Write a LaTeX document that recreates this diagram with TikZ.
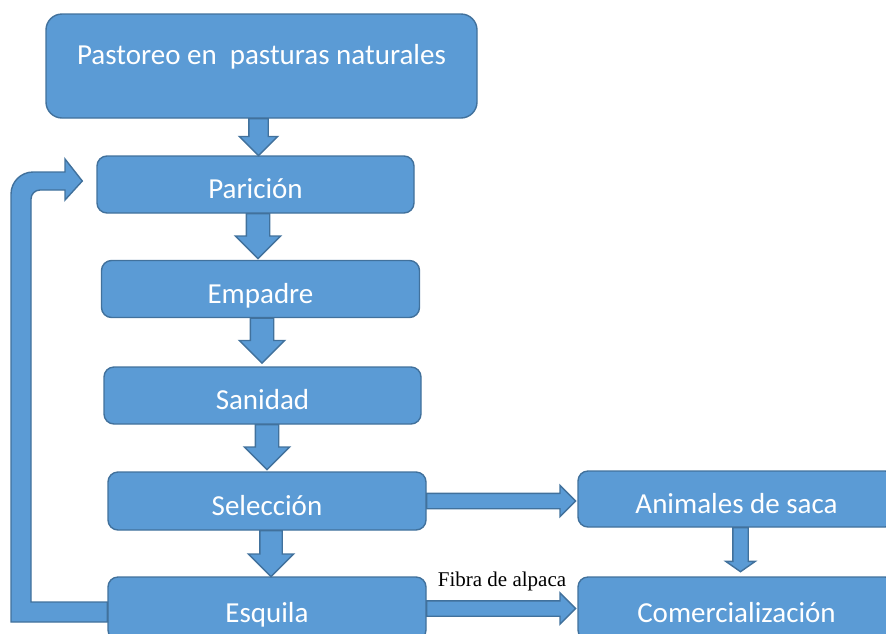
\documentclass[tikz,border=0pt]{standalone}
\usepackage{fontspec}
\setmainfont{Carlito}
\newfontfamily\timesfont{Liberation Serif}
\usepackage{tikz}
\usetikzlibrary{shapes.arrows,calc}
\definecolor{boxfill}{HTML}{5B9BD5}
\definecolor{boxline}{HTML}{41719C}

\begin{document}
\begin{tikzpicture}[x=1pt,y=-1pt]
  \tikzstyle{every node}=[font=\fontsize{29}{34}\selectfont]
  \tikzstyle{box}=[draw=boxline,fill=boxfill,line width=1.4pt,rounded corners=10pt,text=white,text height=28pt,text depth=0pt,inner sep=0pt]
  \tikzstyle{blockarr}=[single arrow,draw=boxline,fill=boxfill,line width=1.4pt,inner xsep=0pt,outer sep=0pt,single arrow head indent=0pt,anchor=tail]
  \useasboundingbox (0,0) rectangle (886,633);
  \node[box,minimum width=431pt,minimum height=104pt,rounded corners=16pt,text height=0pt,text depth=4pt] (pasto) at (261.5,66) {Pastoreo en\ \ pasturas naturales};
  \node[box,minimum width=317pt,minimum height=57pt] (paric) at (255.5,184.5) {Parición};
  \node[box,minimum width=318pt,minimum height=57pt] (empad) at (260.5,289) {Empadre};
  \node[box,minimum width=317pt,minimum height=57pt] (sanid) at (262.5,395.5) {Sanidad};
  \node[box,minimum width=318pt,minimum height=58pt] (selec) at (267,501) {Selección};
  \node[box,minimum width=318pt,minimum height=63pt] (esqui) at (267,608.5) {Esquila};
  \node[box,minimum width=317pt,minimum height=56pt] (anima) at (736.5,499) {Animales de saca};
  \node[box,minimum width=317pt,minimum height=63pt] (comer) at (736.5,608.5) {Comercialización};
  \node[blockarr,rotate=-90,minimum height=37pt,inner ysep=9pt,single arrow head extend=9.5pt] (a1) at ([xshift=-3pt]pasto.south) {};
  \node[blockarr,rotate=-90,minimum height=45pt,inner ysep=11pt,single arrow head extend=11pt] (a2) at ([xshift=2.5pt]paric.south) {};
  \node[blockarr,rotate=-90,minimum height=45pt,inner ysep=11pt,single arrow head extend=11pt] (a3) at ([xshift=1.5pt]empad.south) {};
  \node[blockarr,rotate=-90,minimum height=45pt,inner ysep=11pt,single arrow head extend=11pt] (a4) at ([xshift=4.5pt]sanid.south) {};
  \node[blockarr,rotate=-90,minimum height=46pt,inner ysep=10.5pt,single arrow head extend=11.5pt] (a5) at ([xshift=4pt]selec.south) {};
  \node[blockarr,rotate=-90,minimum height=44pt,inner ysep=7pt,single arrow head extend=7pt,single arrow tip angle=110] (a6) at ([xshift=4pt]anima.south) {};
  \node[blockarr,minimum height=149pt,inner ysep=7pt,single arrow head extend=8pt] (a7) at (selec.east) {};
  \node[blockarr,minimum height=149pt,inner ysep=7pt,single arrow head extend=8pt] (a8) at (esqui.east) {};
  \node[font=\timesfont\fontsize{21}{23}\selectfont,anchor=base] (fibra) at ([yshift=22pt]$(esqui.east)!0.5!(comer.west)$) {Fibra de alpaca};
  \draw[draw=boxline,fill=boxfill,line width=1.4pt] ([yshift=6.5pt]esqui.west) -- (31,602) -- (31,199)
    .. controls (31,194) and (35,190) .. (40,190) -- (65,190) -- (65,200)
    -- ([xshift=-14pt,yshift=3.5pt]paric.west) -- (65,159) -- (65,172) -- (33,172)
    .. controls (20.9,172) and (11,181.9) .. (11,194) -- (11,622) -- ([yshift=-13.5pt]esqui.west) -- cycle;
\end{tikzpicture}
\end{document}
